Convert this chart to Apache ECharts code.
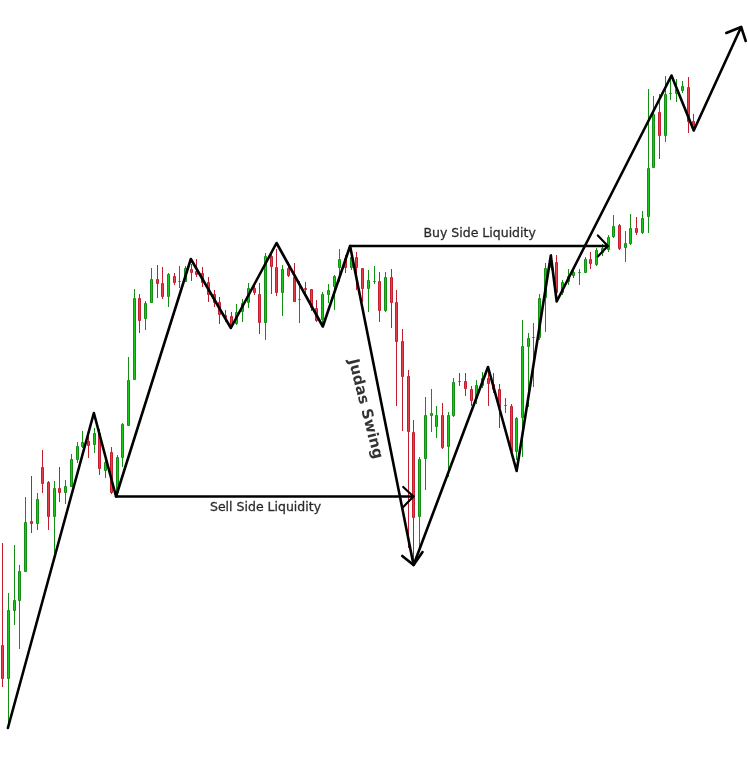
<!DOCTYPE html>
<html>
<head>
<meta charset="utf-8">
<script src="https://cdn.jsdelivr.net/npm/echarts@6/dist/echarts.min.js"></script>
<style>
html,body{margin:0;padding:0;background:#fff;}
#chart{width:748px;height:776px;}
</style>
</head>
<body>
<div id="chart"></div>
<script>
// ---- candle data (price units) ----
const opens  = [131,97,165,175,204,255,252,309,294,259,288,283,289,316,329,335,331,343,305,324,
283,318,350,396,478,457,473,497,493,479,500,494.5,494,507,505,503,494,482,474,461,
460,452,464,473,488,482,453,520,509,483,508,499,477,488,487,468,456,481,489,508,
518,508,519,508,487,494.5,495,465,499,474,435,400,344,259,317,360,349,361,329,360,
395,395,387,377,390,398,392,387,370,370,324,358,429,438,438,478,508,514,483,494,
500,503.5,503,517,511,523,526,539,551,528,532,548,543,559,608,664,640,682.5,682,685,
689,655];
const closes = [97,166,176,205,254,252,277,292,259,288,283,290,317,330,334,330,343,307,314,283,
319,352,396,478,455,473,497,492,479,502,493,495,508,503,501,493,481,473,461,458,
449,464,473,488,483,453,520,509,483,507,500,474,477.5,486,468,455,482,486,500,517,
508,519,508,487,496,495,465,499,473,434,399,344,258,317,361,363,361,328,361,394,
394,387,375,391,398,392,386,368,371,324,358,430,438,439,478,508,514,483,494,500,
504,504,517,512,526,528,539,550,527,533,548,543,558,608,662,640,682,683,687,690,
654,647];
const lows   = [89,50,151,127,204,243,246,283,246,223,274,272,289,313,328,318,323,301,298,282,
279,309,350,396,443,446,473,478,477,469,491,488,494,495,499,489,474,469,452,454,
447,451,454,468,481,442,436,482,480,460,499,474,453,479,465,454,449,473,466,494,
503,506,486,474,464,492,454,464,448,370,345,228,213,226,286,344,338,327,299,359,
390,380,370,372,388,370,383,348,363,321,316,319,369,389,436,444,506,481,481,491,
498,491,503,507,510,520,524,538,526,514,531,541,542,543,608,617,634,676,674,683,
643,645];
const highs  = [233,183,231,211,279,300,283,326,295,295,309,296,322,334,345,343,348,347,323,329,
321,353,419,487,482,475,508,511,509,503,503,510,510,512,517,509,499,486,479,466,
464,472,477,493,493,493,523,525,527,511,514,513,495,494,487,476,484,492,501,527,
521,528,524,508,506,510,504,504,507,486,447,406,356,319,379,387,370,373,364,398,
403,403,390,396,404,409,403,392,378,372,359,456,443,453,482,513,522,521,496,507,
508,507,519,524,528,532,541,561,552,545,562,559,565,687,680,682,700,700,697,695,
699,662];
const slotCount = 131;

// ---- drawn swing structure (x = bar index, y = price) ----
const swingX = [0.88,15.94,19.82,32.92,39.93,47.93,56.04,60.81,71.93,84.97,89.98,95.97,97.0,117.1,121.0,129.3];
const swingY = [48,363,279.5,517,448,533,449.5,530,211,409,305,520.5,474.5,700.5,645.5,749];
const swingHeadX = [126.7,129.3,130.1];
const swingHeadY = [743,749,735];
const judasHeadX = [69.95,71.93,73.5];
const judasHeadY = [220,211,224];
const sellSideX = [19.82,71.9];
const sellSideY = [279.5,279.5];
const sellHeadX = [70.12,71.9,70.12];
const sellHeadY = [289,279.5,269];
const buySideX = [60.81,105.96];
const buySideY = [530,530];
const buyHeadX = [104.2,105.96,104.2];
const buyHeadY = [540.5,530,519.5];

const labelTexts = ['Sell Side Liquidity','Buy Side Liquidity','Judas Swing'];
const labelX = [46.0,83.5,63.43];
const labelY = [268,542,367];

const candleData = opens.map((o, i) => [i, o, closes[i], lows[i], highs[i]]);
const zip = (xs, ys) => xs.map((x, i) => [x, ys[i]]);

const UP_FILL = '#19c819', UP_EDGE = '#138f13';
const DN_FILL = '#e4404c', DN_EDGE = '#c41e2e';

function renderCandle(params, api) {
  const i = api.value(0), o = api.value(1), c = api.value(2), l = api.value(3), h = api.value(4);
  const pO = api.coord([i, o]), pC = api.coord([i, c]);
  const pL = api.coord([i, l]), pH = api.coord([i, h]);
  const px = Math.floor(pO[0]);
  const up = c >= o;
  const edge = up ? UP_EDGE : DN_EDGE;
  const fill = up ? UP_FILL : DN_FILL;
  let top = Math.round(Math.min(pO[1], pC[1]));
  let bot = Math.round(Math.max(pO[1], pC[1]));
  if (bot - top < 1) bot = top + 1;
  return {
    type: 'group',
    children: [
      {type: 'line', shape: {x1: px + 0.5, y1: Math.round(pH[1]), x2: px + 0.5, y2: Math.round(pL[1])},
       style: {stroke: edge, lineWidth: 1}},
      {type: 'rect', shape: {x: px - 0.5, y: top + 0.5, width: 2, height: Math.max(bot - top - 1, 0)},
       style: {fill: fill, stroke: edge, lineWidth: 1}}
    ]
  };
}

function lineSeries(xs, ys, w) {
  return {
    type: 'line', xAxisIndex: 0, yAxisIndex: 0,
    data: zip(xs, ys), symbol: 'none', silent: true,
    lineStyle: {color: '#000', width: w, cap: 'round', join: 'round'},
    z: 5, animation: false
  };
}

const chart = echarts.init(document.getElementById('chart'), null, {renderer: 'canvas'});
chart.setOption({
  backgroundColor: '#ffffff',
  animation: false,
  grid: {left: -0.5, right: 0, top: 0, bottom: 0},
  xAxis: [{type: 'value', min: -0.5, max: slotCount - 0.5, show: false}],
  yAxis: [{type: 'value', min: 0, max: 776, show: false}],
  series: [
    {
      type: 'custom', xAxisIndex: 0, yAxisIndex: 0,
      data: candleData, renderItem: renderCandle,
      encode: {x: 0, y: [1, 2, 3, 4]}, silent: true, z: 2
    },
    lineSeries(swingX, swingY, 2.6),
    lineSeries(swingHeadX, swingHeadY, 2.6),
    lineSeries(judasHeadX, judasHeadY, 2.6),
    lineSeries(sellSideX, sellSideY, 2.4),
    lineSeries(sellHeadX, sellHeadY, 2.2),
    lineSeries(buySideX, buySideY, 2.4),
    lineSeries(buyHeadX, buyHeadY, 2.2),
    {
      type: 'scatter', xAxisIndex: 0, yAxisIndex: 0, symbolSize: 0, silent: true, z: 6,
      data: labelTexts.map((t, i) => ({
        value: [labelX[i], labelY[i]],
        label: {
          show: true, position: 'inside', formatter: t,
          fontFamily: 'DejaVu Sans', color: '#000',
          fontSize: i === 2 ? 15 : 12.5,
          fontWeight: i === 2 ? 'bold' : 'normal',
          textBorderColor: '#000', textBorderWidth: i === 2 ? 0 : 0.3,
          rotate: i === 2 ? -75.7 : 0
        }
      }))
    }
  ]
});
</script>
</body>
</html>
